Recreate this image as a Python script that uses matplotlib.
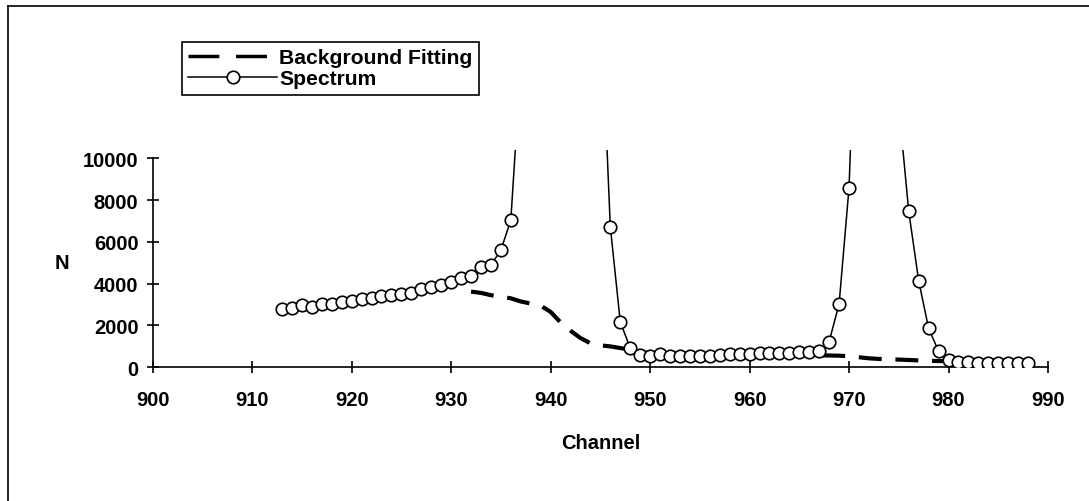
import numpy as np
import matplotlib
matplotlib.use('Agg')
import matplotlib.pyplot as plt
from matplotlib.lines import Line2D

plt.rcParams['font.family'] = ['Liberation Sans', 'DejaVu Sans']
plt.rcParams['font.weight'] = 'bold'

# spectrum counts per channel (peaks go off the top of the plot)
spec_channel = list(range(913, 989))
spec_counts = [2790, 2820, 2980, 2900, 3010, 3030, 3140, 3190, 3270, 3330,
               3430, 3460, 3510, 3560, 3750, 3860, 3960, 4090, 4260, 4380,
               4800, 4900, 5600, 7050, 14500, 35000, 60000, 80000, 85000, 75000,
               55000, 35000, 18000, 6730, 2180, 920, 600, 560, 620, 560,
               530, 520, 530, 560, 590, 620, 640, 660, 670, 680,
               680, 690, 710, 720, 800, 1230, 3030, 8600, 22000, 45000,
               50000, 30000, 12500, 7460, 4140, 1860, 770, 370, 250, 230,
               220, 220, 210, 210, 200, 220]

# background fit
bg_channel = list(range(932, 981))
bg_counts = [3620, 3560, 3450, 3380, 3300, 3150, 3050, 2950, 2650, 2150,
             1750, 1400, 1150, 1050, 1000, 920, 850, 720, 680, 660,
             650, 640, 635, 630, 625, 620, 615, 610, 605, 600,
             598, 595, 592, 590, 585, 575, 565, 555, 530, 480,
             430, 400, 385, 370, 350, 330, 310, 300, 290]

x_ticks = [900, 910, 920, 930, 940, 950, 960, 970, 980, 990]
y_ticks = [0, 2000, 4000, 6000, 8000, 10000]

W, H = 1089, 502
fig = plt.figure(figsize=(W / 100, H / 100), dpi=100)
ax = fig.add_axes([152.7 / W, 1 - 368.3 / H, (1048 - 152.7) / W, (368.3 - 150.5) / H])

ax.plot(bg_channel, bg_counts, color='black', lw=3, dashes=(5.5, 3.3), zorder=2)
ax.plot(spec_channel, spec_counts, color='black', lw=1.1, marker='o', ms=9,
        mfc='white', mec='black', mew=1.2, zorder=3)

ax.set_xlim(900, 990)
ax.set_ylim(0, 10420)
ax.set_xticks(x_ticks)
ax.set_yticks(y_ticks)
ax.spines['top'].set_visible(False)
ax.spines['right'].set_visible(False)
ax.spines['left'].set_bounds(0, 10000)
ax.spines['left'].set_linewidth(1.2)
ax.spines['bottom'].set_linewidth(1.2)
ax.tick_params(axis='both', direction='inout', length=8.5, width=1.2, labelsize=14.5)
ax.tick_params(axis='x', pad=12)
ax.tick_params(axis='y', pad=6)
for lab in ax.get_xticklabels() + ax.get_yticklabels():
    lab.set_fontweight('bold')

ax.set_xlabel('Channel', fontsize=14.5, fontweight='bold')
ax.xaxis.set_label_coords(0.5, -0.30)
ax.set_ylabel('N', fontsize=14.5, fontweight='bold', rotation=0, va='center', ha='center')
ax.yaxis.set_label_coords(-0.101, 0.483)

handles = [Line2D([], [], color='black', lw=2.5, dashes=(8.9, 4.8)),
           Line2D([], [], color='black', lw=1.1, marker='o', ms=9, mfc='white',
                  mec='black', mew=1.2)]
leg = fig.legend(handles, ['Background Fitting', 'Spectrum'], loc='upper left',
                 bbox_to_anchor=(182 / W, 1 - 43 / H), borderaxespad=0,
                 prop={'size': 15.2, 'weight': 'bold'}, fancybox=False,
                 edgecolor='black', framealpha=1, handlelength=4.2,
                 handletextpad=0.1, labelspacing=0.1, borderpad=0.3)
leg.get_frame().set_linewidth(1.2)

# outer border of the picture
fig.add_artist(Line2D([7.5 / W, 1], [1 - 7 / H, 1 - 7 / H], color='black', lw=1.2))
fig.add_artist(Line2D([7.5 / W, 7.5 / W], [0, 1 - 7 / H], color='black', lw=1.2))

fig.savefig('out.png', dpi=100)
